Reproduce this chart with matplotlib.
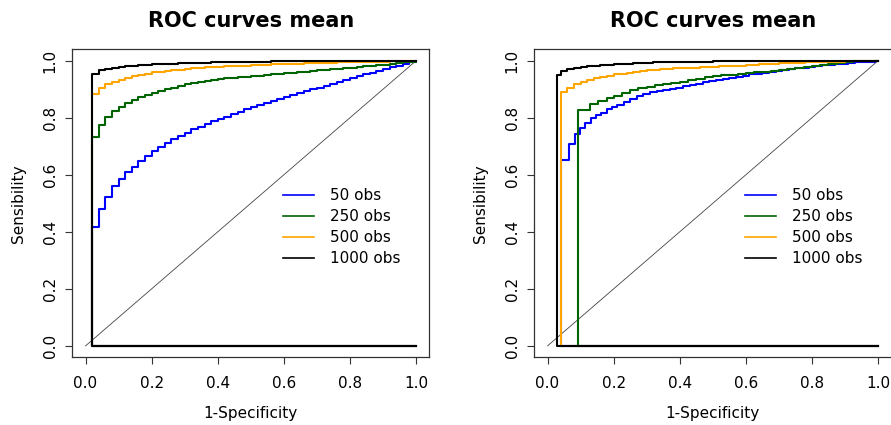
import matplotlib
matplotlib.use("Agg")
import matplotlib.pyplot as plt
from matplotlib.lines import Line2D
import numpy as np

labels = ["50 obs", "250 obs", "500 obs", "1000 obs"]
colors = ["#0000FF", "#006400", "#FFA500", "#000000"]
ticks = [0.0, 0.2, 0.4, 0.6, 0.8, 1.0]
tick_labels = ["0.0", "0.2", "0.4", "0.6", "0.8", "1.0"]
title = "ROC curves mean"
xlabel = "1-Specificity"
ylabel = "Sensibility"

# ---- left panel ----
fpr_left = [0.02, 0.04, 0.06, 0.08, 0.10, 0.12, 0.14, 0.16, 0.18, 0.20,
            0.22, 0.24, 0.26, 0.28, 0.30, 0.32, 0.34, 0.36, 0.38, 0.40,
            0.42, 0.44, 0.46, 0.48, 0.50, 0.52, 0.54, 0.56, 0.58, 0.60,
            0.62, 0.64, 0.66, 0.68, 0.70, 0.72, 0.74, 0.76, 0.78, 0.80,
            0.82, 0.84, 0.86, 0.88, 0.90, 0.92, 0.94, 0.96, 0.98, 1.00]
tpr_left_50 = [0.416, 0.481, 0.522, 0.560, 0.586, 0.610, 0.627, 0.648, 0.666, 0.683,
               0.698, 0.713, 0.725, 0.736, 0.748, 0.759, 0.768, 0.777, 0.787, 0.795,
               0.803, 0.812, 0.821, 0.830, 0.837, 0.845, 0.852, 0.859, 0.866, 0.873,
               0.880, 0.887, 0.893, 0.900, 0.906, 0.913, 0.920, 0.926, 0.933, 0.939,
               0.945, 0.952, 0.958, 0.965, 0.971, 0.977, 0.983, 0.989, 0.995, 1.000]
tpr_left_250 = [0.733, 0.775, 0.801, 0.822, 0.838, 0.850, 0.862, 0.871, 0.880, 0.887,
                0.894, 0.901, 0.906, 0.912, 0.917, 0.921, 0.925, 0.929, 0.932, 0.935,
                0.938, 0.940, 0.942, 0.944, 0.946, 0.948, 0.950, 0.952, 0.954, 0.956,
                0.958, 0.960, 0.962, 0.964, 0.966, 0.968, 0.970, 0.972, 0.974, 0.976,
                0.978, 0.980, 0.982, 0.984, 0.986, 0.988, 0.991, 0.994, 0.997, 1.000]
tpr_left_500 = [0.885, 0.906, 0.918, 0.927, 0.934, 0.941, 0.946, 0.951, 0.955, 0.959,
                0.962, 0.965, 0.967, 0.969, 0.971, 0.973, 0.975, 0.977, 0.978, 0.979,
                0.980, 0.981, 0.982, 0.983, 0.984, 0.985, 0.986, 0.987, 0.988, 0.989,
                0.989, 0.990, 0.991, 0.991, 0.992, 0.993, 0.993, 0.994, 0.994, 0.995,
                0.995, 0.996, 0.996, 0.997, 0.997, 0.998, 0.998, 0.999, 0.999, 1.000]
tpr_left_1000 = [0.953, 0.966, 0.972, 0.976, 0.979, 0.981, 0.983, 0.985, 0.986, 0.987,
                 0.988, 0.989, 0.990, 0.991, 0.992, 0.992, 0.993, 0.993, 0.994, 0.994,
                 0.995, 0.995, 0.996, 0.996, 0.997, 0.997, 0.997, 0.998, 0.998, 0.998,
                 0.998, 0.998, 0.998, 0.999, 0.999, 0.999, 0.999, 0.999, 0.999, 0.999,
                 0.999, 0.999, 0.999, 0.999, 1.000, 1.000, 1.000, 1.000, 1.000, 1.000]

# ---- right panel ----
fpr_right_50 = [0.041, 0.066, 0.084, 0.099, 0.114, 0.131, 0.146, 0.162, 0.179, 0.194,
                0.21, 0.23, 0.25, 0.27, 0.29, 0.31, 0.33, 0.35, 0.37, 0.39,
                0.41, 0.43, 0.45, 0.47, 0.49, 0.51, 0.53, 0.55, 0.57, 0.59,
                0.61, 0.63, 0.65, 0.67, 0.69, 0.71, 0.73, 0.75, 0.77, 0.79,
                0.81, 0.83, 0.85, 0.87, 0.89, 0.91, 0.93, 0.95, 0.97, 0.99, 1.00]
tpr_right_50 = [0.651, 0.707, 0.742, 0.763, 0.783, 0.798, 0.809, 0.818, 0.829, 0.836,
                0.845, 0.856, 0.866, 0.877, 0.884, 0.889, 0.894, 0.898, 0.902, 0.906,
                0.911, 0.915, 0.920, 0.924, 0.928, 0.932, 0.936, 0.940, 0.944, 0.948,
                0.952, 0.955, 0.958, 0.961, 0.964, 0.967, 0.970, 0.973, 0.976, 0.979,
                0.981, 0.984, 0.986, 0.988, 0.990, 0.992, 0.994, 0.995, 0.997, 0.999, 1.000]
fpr_right_250 = [0.092, 0.127, 0.154, 0.179, 0.200, 0.225, 0.250, 0.275, 0.300, 0.325,
                 0.350, 0.375, 0.400, 0.425, 0.450, 0.475, 0.500, 0.525, 0.550, 0.575,
                 0.600, 0.625, 0.650, 0.675, 0.700, 0.725, 0.750, 0.775, 0.800, 0.825,
                 0.850, 0.875, 0.900, 0.925, 0.950, 0.975, 1.000]
tpr_right_250 = [0.827, 0.848, 0.859, 0.868, 0.878, 0.887, 0.896, 0.903, 0.909, 0.914,
                 0.919, 0.923, 0.927, 0.932, 0.937, 0.942, 0.946, 0.949, 0.951, 0.953,
                 0.956, 0.959, 0.962, 0.965, 0.968, 0.971, 0.974, 0.977, 0.981, 0.984,
                 0.988, 0.991, 0.995, 0.998, 1.000, 1.000, 1.000]
fpr_right_500 = [0.04, 0.06, 0.08, 0.10, 0.12, 0.14, 0.16, 0.18, 0.20,
                 0.22, 0.24, 0.26, 0.28, 0.30, 0.32, 0.34, 0.36, 0.38, 0.40,
                 0.42, 0.44, 0.46, 0.48, 0.50, 0.52, 0.54, 0.56, 0.58, 0.60,
                 0.62, 0.64, 0.66, 0.68, 0.70, 0.72, 0.74, 0.76, 0.78, 0.80,
                 0.82, 0.84, 0.86, 0.88, 0.90, 0.92, 0.94, 0.96, 0.98, 1.00]
tpr_right_500 = [0.892, 0.906, 0.918, 0.927, 0.932, 0.939, 0.944, 0.948, 0.952,
                 0.955, 0.958, 0.961, 0.964, 0.966, 0.968, 0.970, 0.972, 0.973, 0.974,
                 0.975, 0.976, 0.977, 0.978, 0.979, 0.980, 0.981, 0.982, 0.983, 0.985,
                 0.986, 0.987, 0.988, 0.990, 0.991, 0.992, 0.992, 0.993, 0.994, 0.994,
                 0.995, 0.996, 0.996, 0.997, 0.998, 0.998, 0.999, 0.999, 1.000, 1.000]
fpr_right_1000 = [0.028, 0.04, 0.06, 0.08, 0.10, 0.12, 0.14, 0.16, 0.18, 0.20,
                  0.22, 0.24, 0.26, 0.28, 0.30, 0.32, 0.34, 0.36, 0.38, 0.40,
                  0.42, 0.44, 0.46, 0.48, 0.50, 0.52, 0.54, 0.56, 0.58, 0.60,
                  0.62, 0.64, 0.66, 0.68, 0.70, 0.72, 0.74, 0.76, 0.78, 0.80,
                  0.82, 0.84, 0.86, 0.88, 0.90, 0.92, 0.94, 0.96, 0.98, 1.00]
tpr_right_1000 = [0.951, 0.963, 0.970, 0.974, 0.977, 0.980, 0.982, 0.984, 0.986, 0.988,
                  0.989, 0.990, 0.991, 0.992, 0.993, 0.994, 0.994, 0.995, 0.995, 0.996,
                  0.996, 0.997, 0.997, 0.997, 0.998, 0.998, 0.998, 0.998, 0.998, 0.998,
                  1.000, 1.000, 1.000, 1.000, 1.000, 1.000, 1.000, 1.000, 1.000, 1.000,
                  1.000, 1.000, 1.000, 1.000, 1.000, 1.000, 1.000, 1.000, 1.000, 1.000]

panels = [
    [(fpr_left, tpr_left_50), (fpr_left, tpr_left_250),
     (fpr_left, tpr_left_500), (fpr_left, tpr_left_1000)],
    [(fpr_right_50, tpr_right_50), (fpr_right_250, tpr_right_250),
     (fpr_right_500, tpr_right_500), (fpr_right_1000, tpr_right_1000)],
]

W, H = 891, 425
fig = plt.figure(figsize=(W / 100, H / 100), dpi=100)
plt.rcParams['font.family'] = ['DejaVu Sans']

box_lefts = [72.3, 534.3]
box_w, box_top, box_bottom = 357.0, 49.3, 357.3
frame_col = "#333333"

for i, (left_px, curves) in enumerate(zip(box_lefts, panels)):
    ax = fig.add_axes([left_px / W, (H - box_bottom) / H, box_w / W,
                       (box_bottom - box_top) / H])
    ax.set_xlim(-0.04, 1.04)
    ax.set_ylim(-0.04, 1.04)
    ax.plot([0, 1], [0, 1], color="#444444", lw=0.6, zorder=1)
    for (fpr, tpr), col in zip(curves, colors):
        xs = np.concatenate([[1.0, fpr[0]], fpr])
        ys = np.concatenate([[0.0, 0.0], tpr])
        ax.plot(xs, ys, color=col, lw=1.5, drawstyle="steps-post", zorder=2)
    for s in ax.spines.values():
        s.set_color(frame_col)
        s.set_linewidth(0.9)
    if i == 1:
        # the reference's right-hand frame edge falls just outside the image
        ax.spines["right"].set_visible(False)
    ax.set_xticks(ticks)
    ax.set_xticklabels(tick_labels)
    ax.set_yticks(ticks)
    ax.set_yticklabels(tick_labels, rotation=90, va="center")
    ax.tick_params(axis="both", direction="out", length=5, width=0.8,
                   color=frame_col, labelsize=11, labelcolor="#000000")
    ax.tick_params(axis="x", pad=8.6)
    ax.tick_params(axis="y", pad=5.5)
    ax.set_title(title, fontsize=15, fontweight="bold", pad=16)
    ax.set_xlabel(xlabel, fontsize=11)
    ax.xaxis.set_label_coords(0.5, (box_bottom - 406.0) / (box_bottom - box_top))
    ax.set_ylabel(ylabel, fontsize=11)
    ax.yaxis.set_label_coords((26.0 - 72.3) / box_w, 0.5)
    handles = [Line2D([0], [0], color=c, lw=1.2) for c in colors]
    ax.legend(handles, labels, loc="upper left", bbox_to_anchor=(0.591, 0.55),
              frameon=False, fontsize=11, handlelength=2.0, handletextpad=1.05,
              labelspacing=0.4, borderpad=0, borderaxespad=0)

fig.savefig("out.png", dpi=100)
